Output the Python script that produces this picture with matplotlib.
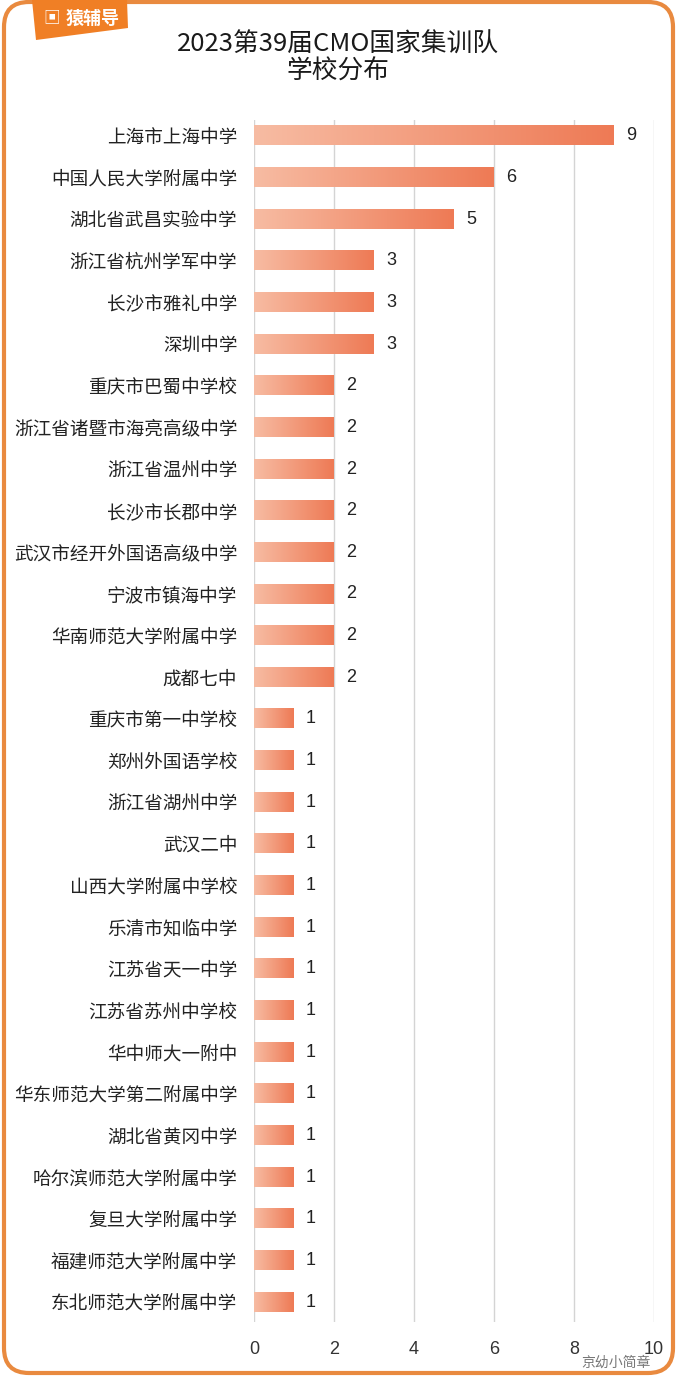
import numpy as np
import matplotlib.pyplot as plt
from matplotlib.colors import LinearSegmentedColormap
from matplotlib.patches import FancyBboxPatch, Polygon

plt.rcParams['font.family'] = ['Noto Sans CJK SC', 'DejaVu Sans']

schools = ['上海市上海中学', '中国人民大学附属中学', '湖北省武昌实验中学', '浙江省杭州学军中学',
           '长沙市雅礼中学', '深圳中学', '重庆市巴蜀中学校', '浙江省诸暨市海亮高级中学',
           '浙江省温州中学', '长沙市长郡中学', '武汉市经开外国语高级中学', '宁波市镇海中学',
           '华南师范大学附属中学', '成都七中', '重庆市第一中学校', '郑州外国语学校',
           '浙江省湖州中学', '武汉二中', '山西大学附属中学校', '乐清市知临中学',
           '江苏省天一中学', '江苏省苏州中学校', '华中师大一附中', '华东师范大学第二附属中学',
           '湖北省黄冈中学', '哈尔滨师范大学附属中学', '复旦大学附属中学', '福建师范大学附属中学',
           '东北师范大学附属中学']
counts = [9, 6, 5, 3, 3, 3, 2, 2, 2, 2, 2, 2, 2, 2,
          1, 1, 1, 1, 1, 1, 1, 1, 1, 1, 1, 1, 1, 1, 1]
xticks = [0, 2, 4, 6, 8, 10]

W, H = 677, 1377
fig = plt.figure(figsize=(W / 100, H / 100), dpi=100)
fig.patch.set_facecolor('white')


def px(x, y):
    return (x / 100, (H - y) / 100)


ax = fig.add_axes([254 / W, 1 - 1322 / H, 400 / W, 1202 / H])
ax.set_facecolor('none')

cmap = LinearSegmentedColormap.from_list('bar', ['#f7bca3', '#ee7a55'])
grad = np.linspace(0, 1, 256).reshape(1, -1)
bh = 0.46
ypos = np.arange(len(schools))
for y, v in zip(ypos, counts):
    ax.imshow(grad, extent=(0, v, y + bh / 2, y - bh / 2), cmap=cmap,
              aspect='auto', zorder=2, interpolation='bicubic')
    ax.text(v + 0.3, y, str(v), va='center', ha='left', fontsize=13,
            color='#222222', family=['Liberation Sans', 'DejaVu Sans'])

ax.set_xlim(0, 10)
ax.set_ylim(len(schools) - 1 + 0.48, -0.38)
ax.set_aspect('auto')
ax.set_xticks(xticks)
ax.set_xticklabels([str(t) for t in xticks], fontsize=13, color='#333333',
                   family=['Liberation Sans', 'DejaVu Sans'])
ax.set_yticks(ypos)
ax.set_yticklabels(schools, fontsize=13.4, color='#222222')
ax.tick_params(length=0, axis='x', pad=14)
ax.tick_params(length=0, axis='y', pad=12)
ax.grid(axis='x', color='#d4d4d4', lw=1, zorder=0)
for s in ax.spines.values():
    s.set_visible(False)

fig.text(338 / W, 1 - 45 / H, '2023第39届CMO国家集训队', ha='center', va='center',
         fontsize=18.5, color='#1a1a1a')
fig.text(338 / W, 1 - 72 / H, '学校分布', ha='center', va='center',
         fontsize=18.5, color='#1a1a1a')

# rounded orange frame
fig.patches.append(FancyBboxPatch(px(4, 1373), 6.69, 13.71,
                                  boxstyle='round,pad=0,rounding_size=0.25',
                                  transform=fig.dpi_scale_trans, fill=False,
                                  ec='#e98a3f', lw=3, zorder=5))

# logo tab
tab = [px(32, 0), px(127, 0), px(128, 28), px(36, 40)]
fig.patches.append(Polygon(tab, closed=True, transform=fig.dpi_scale_trans,
                           fc='#f07f25', ec='none', zorder=6))
fig.text(*px(52, 18), '\u25a3', transform=fig.dpi_scale_trans, fontsize=12,
         color='white', ha='center', va='center', zorder=7)
fig.text(*px(93, 18), '猿辅导', transform=fig.dpi_scale_trans, fontsize=13,
         color='white', ha='center', va='center', fontweight='bold', zorder=7)

# wechat watermark
fig.text(*px(616, 1363), '京幼小简章', transform=fig.dpi_scale_trans, fontsize=10,
         color='#777777', ha='center', va='center', zorder=7)

fig.savefig('out.png', dpi=100)
